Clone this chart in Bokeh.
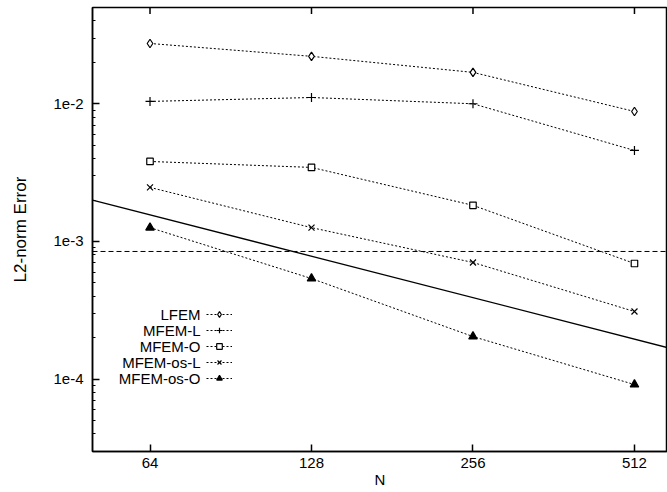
import math
from bokeh.plotting import figure
from bokeh.models import (FixedTicker, CustomJSTickFormatter, Range1d, Span,
                          Legend, LegendItem, Label)
from bokeh.embed import file_html
from bokeh.resources import INLINE

# ---- data ----
N = [64, 128, 256, 512]
series_names = ["LFEM", "MFEM-L", "MFEM-O", "MFEM-os-L", "MFEM-os-O"]
lfem = [0.0274, 0.0221, 0.0169, 0.00879]
mfem_l = [0.0104, 0.0111, 0.0100, 0.00458]
mfem_o = [0.00381, 0.00345, 0.00183, 0.000692]
mfem_os_l = [0.00247, 0.00126, 0.000704, 0.000310]
mfem_os_o = [0.00126, 0.000538, 0.000204, 0.0000914]
series_values = [lfem, mfem_l, mfem_o, mfem_os_l, mfem_os_o]

ref_n = [50, 600]            # solid reference line ends
ref_err = [2.0e-3, 1.667e-4]
level_err = 8.46e-4          # horizontal dashed level

x_ticks = [64, 128, 256, 512]
y_ticks = [1e-4, 1e-3, 1e-2]
y_minor = [k * 10.0 ** e for e in (-5, -4, -3, -2) for k in range(2, 10)]

X_LO, X_HI = 50, 590
Y_LO, Y_HI = 2.985e-5, 0.05

FONT = "Liberation Sans"

p = figure(width=667, height=492, x_axis_type="log", y_axis_type="log",
           x_range=Range1d(X_LO, X_HI), y_range=Range1d(Y_LO, Y_HI),
           output_backend="svg", toolbar_location=None,
           min_border_left=92, min_border_right=0, min_border_top=7,
           min_border_bottom=41)
p.xgrid.visible = False
p.ygrid.visible = False
p.outline_line_color = "black"
p.outline_line_width = 1.5
p.outline_line_alpha = 1.0
p.background_fill_color = "white"
p.border_fill_color = "white"

for ax in (p.xaxis[0], p.yaxis[0]):
    ax.axis_line_width = 1.5
    ax.axis_line_color = "black"
    ax.major_tick_in = 7
    ax.major_tick_out = 0
    ax.minor_tick_in = 3
    ax.minor_tick_out = 0
    ax.major_tick_line_width = 1.5
    ax.major_label_text_font = FONT
    ax.major_label_text_font_size = "15px"
    ax.major_label_text_color = "black"

p.xaxis.ticker = FixedTicker(ticks=x_ticks, minor_ticks=[])
p.xaxis.formatter = CustomJSTickFormatter(code="return String(Math.round(tick));")
p.xaxis.major_label_standoff = 6
p.xaxis.axis_label = "N"
p.xaxis.axis_label_text_font = FONT
p.xaxis.axis_label_text_font_size = "15px"
p.xaxis.axis_label_text_font_style = "normal"
p.xaxis.axis_label_text_color = "black"
p.xaxis.axis_label_standoff = 0

p.yaxis.ticker = FixedTicker(ticks=y_ticks, minor_ticks=y_minor)
p.yaxis.formatter = CustomJSTickFormatter(code="return '1e' + Math.round(Math.log10(tick));")
p.yaxis.major_label_standoff = 9
p.yaxis.axis_label = "L2-norm Error"
p.yaxis.axis_label_text_font = FONT
p.yaxis.axis_label_text_font_size = "17px"
p.yaxis.axis_label_text_font_style = "normal"
p.yaxis.axis_label_text_color = "black"
p.yaxis.axis_label_standoff = 20

# mirrored tick marks along the top border (half of each dash is clipped)
p.scatter(x_ticks, [Y_HI] * len(x_ticks), marker="dash", angle=math.pi / 2,
          size=13, line_color="black", line_width=1.5)

# reference lines
p.line(ref_n, ref_err, line_color="black", line_width=1.3)
p.add_layout(Span(location=level_err, dimension="width", line_color="black",
                  line_width=1, line_dash="5 3"))

marker_styles = [
    dict(marker="diamond", size=8.5, fill_color="white"),
    dict(marker="cross", size=9, fill_color="black"),
    dict(marker="square", size=6.5, fill_color="white"),
    dict(marker="x", size=8.5, fill_color="black"),
    dict(marker="triangle", size=8.5, fill_color="black"),
]

items = []
for name, vals, ms in zip(series_names, series_values, marker_styles):
    lr = p.line(N, vals, line_color="black", line_width=1, line_dash="2 2")
    sr = p.scatter(N, vals, line_color="black", line_width=1.2, **ms)
    items.append(LegendItem(label="", renderers=[lr, sr]))

# legend samples (the text goes to their left, as in the reference)
legend = Legend(items=items, location=(114, 66.5), glyph_width=26, glyph_height=14,
                label_height=14, label_width=0, label_standoff=0, spacing=2,
                padding=0, margin=0, border_line_alpha=0, background_fill_alpha=0,
                label_text_font_size="8px")
p.add_layout(legend, "center")

for i, name in enumerate(series_names):
    p.add_layout(Label(x=108, y=137.5 - 16 * i, x_units="screen", y_units="screen",
                       text=name, text_align="right", text_baseline="middle",
                       text_font=FONT, text_font_size="15px", text_color="black"))

open("out.html", "w").write(file_html(p, INLINE))
